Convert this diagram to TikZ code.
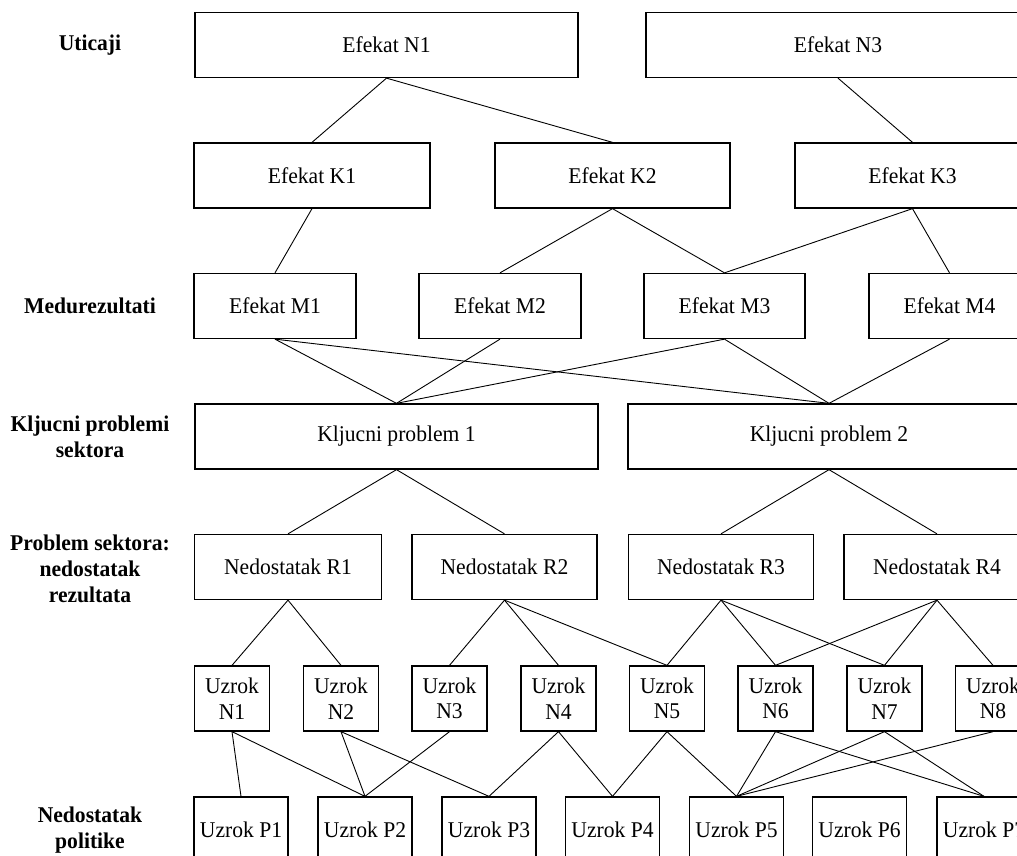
\documentclass[tikz,border=0pt]{standalone}
\usepackage{fontspec}
\setmainfont[FakeStretch=0.96]{Liberation Serif}
\begin{document}
\begin{tikzpicture}[x=1pt,y=-1pt,
  bx/.style={draw, line width=1.3pt, minimum width=#1, minimum height=65pt,
    inner sep=0pt, align=center, font=\fontsize{22.5}{25.5}\selectfont},
  lvl/.style={align=center, font=\fontsize{22.5}{26}\selectfont\bfseries},
  link/.style={line width=0.9pt}]
\useasboundingbox (0,0) rectangle (1017,856);
\clip (0,0) rectangle (1017,856);

% level labels
\node[lvl] (lU) at (90,45) {Uticaji};
\node[lvl] (lM) at (90,306) {Medurezultati};
\node[lvl] (lK) at (90,437) {Kljucni problemi\\sektora};
\node[lvl] (lR) at (90,569) {Problem sektora:\\nedostatak\\rezultata};
\node[lvl] (lP) at (90,830) {Nedostatak\\politike};

% impacts
\node[bx=383pt] (EN1) at (386.5,45) {Efekat N1};
\node[bx=384pt] (EN3) at (838,45) {Efekat N3};

% effects K
\node[bx=236pt] (EK1) at (312,175.5) {Efekat K1};
\node[bx=235pt] (EK2) at (612.5,175.5) {Efekat K2};
\node[bx=235pt] (EK3) at (912.5,175.5) {Efekat K3};

% intermediate results
\node[bx=162pt] (EM1) at (275,306) {Efekat M1};
\node[bx=162pt] (EM2) at (500,306) {Efekat M2};
\node[bx=161pt] (EM3) at (724.5,306) {Efekat M3};
\node[bx=161pt] (EM4) at (949.5,306) {Efekat M4};

% key problems
\node[bx=403pt] (KP1) at (396.5,436.5) {Kljucni problem 1};
\node[bx=402pt] (KP2) at (829,436.5) {Kljucni problem 2};

% missing results
\node[bx=187pt] (R1) at (288,567) {Nedostatak R1};
\node[bx=185pt] (R2) at (504.5,567) {Nedostatak R2};
\node[bx=185pt] (R3) at (721,567) {Nedostatak R3};
\node[bx=186pt] (R4) at (937,567) {Nedostatak R4};

% causes N
\foreach \i/\x in {1/232,2/341,3/449.5,4/558.5,5/667,6/775.5,7/884.5,8/993}
  \node[bx=75pt] (UN\i) at (\x,698.5) {Uzrok\\N\i};

% causes P
\foreach \i/\x in {1/241,2/365,3/489,4/612.5,5/736.5,6/859.5,7/984}
  \node[bx=94pt] (UP\i) at (\x,829.5) {Uzrok P\i};

% connections between levels
\draw[link] (EN1.south) -- (EK1.north);
\draw[link] (EN1.south) -- (EK2.north);
\draw[link] (EN3.south) -- (EK3.north);

\draw[link] (EK1.south) -- (EM1.north);
\draw[link] (EK2.south) -- (EM2.north);
\draw[link] (EK2.south) -- (EM3.north);
\draw[link] (EK3.south) -- (EM3.north);
\draw[link] (EK3.south) -- (EM4.north);

\draw[link] (EM1.south) -- (KP1.north);
\draw[link] (EM2.south) -- (KP1.north);
\draw[link] (EM3.south) -- (KP1.north);
\draw[link] (EM1.south) -- (KP2.north);
\draw[link] (EM3.south) -- (KP2.north);
\draw[link] (EM4.south) -- (KP2.north);

\draw[link] (KP1.south) -- (R1.north);
\draw[link] (KP1.south) -- (R2.north);
\draw[link] (KP2.south) -- (R3.north);
\draw[link] (KP2.south) -- (R4.north);

\draw[link] (R1.south) -- (UN1.north);
\draw[link] (R1.south) -- (UN2.north);
\draw[link] (R2.south) -- (UN3.north);
\draw[link] (R2.south) -- (UN4.north);
\draw[link] (R2.south) -- (UN5.north);
\draw[link] (R3.south) -- (UN5.north);
\draw[link] (R3.south) -- (UN6.north);
\draw[link] (R3.south) -- (UN7.north);
\draw[link] (R4.south) -- (UN6.north);
\draw[link] (R4.south) -- (UN7.north);
\draw[link] (R4.south) -- (UN8.north);

\draw[link] (UN1.south) -- (UP1.north);
\draw[link] (UN1.south) -- (UP2.north);
\draw[link] (UN2.south) -- (UP2.north);
\draw[link] (UN2.south) -- (UP3.north);
\draw[link] (UN3.south) -- (UP2.north);
\draw[link] (UN4.south) -- (UP3.north);
\draw[link] (UN4.south) -- (UP4.north);
\draw[link] (UN5.south) -- (UP4.north);
\draw[link] (UN5.south) -- (UP5.north);
\draw[link] (UN6.south) -- (UP5.north);
\draw[link] (UN6.south) -- (UP7.north);
\draw[link] (UN7.south) -- (UP5.north);
\draw[link] (UN7.south) -- (UP7.north);
\draw[link] (UN8.south) -- (UP5.north);
\end{tikzpicture}
\end{document}
